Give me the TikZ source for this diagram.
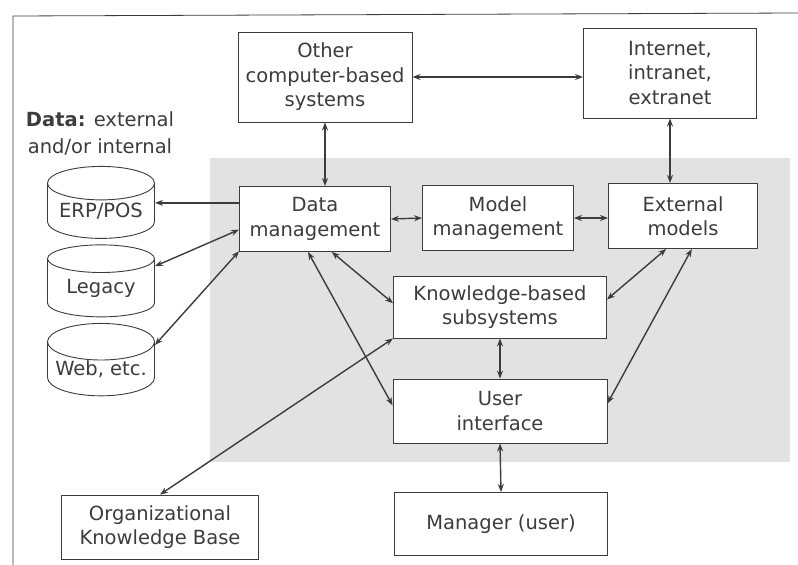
\documentclass[tikz,border=0pt]{standalone}
\usepackage{fontspec}
\setmainfont{DejaVu Sans}
\usetikzlibrary{arrows.meta,shapes.geometric}

\definecolor{ink}{HTML}{3C3C3C}
\definecolor{bgshade}{HTML}{E2E2E2}

\begin{document}
\begin{tikzpicture}[x = 1pt, y = -1pt,
  box/.style   = {draw = ink, line width = 0.9pt, fill = white, text = ink,
                  align = center, inner sep = 0pt,
                  font = \fontsize{19.5}{24.5}\selectfont},
  store/.style = {cylinder, shape border rotate = 90, aspect = 0.4,
                  draw = ink, line width = 0.9pt, fill = white, text = ink,
                  inner sep = 0pt, minimum width = 107pt, minimum height = 72pt,
                  font = \fontsize{19.5}{24.5}\selectfont},
  link/.style  = {draw = ink, line width = 1.4pt,
                  {Stealth[length = 8pt, width = 6pt]}-{Stealth[length = 8pt, width = 6pt]}}]

\useasboundingbox (0, 0) rectangle (798, 565);

\fill[bgshade] (210, 158) rectangle (790, 462);
\draw[ink, line width = 0.8pt] (13, 565) -- (13, 16) -- (798, 13);

\node[box, minimum width = 174pt, minimum height = 90pt] (other) at (325,  77) {Other\\computer-based\\systems};
\node[box, minimum width = 173pt, minimum height = 90pt] (inet)  at (670,  73) {Internet,\\intranet,\\extranet};

\node[text = ink, align = center, font = \fontsize{19.5}{27}\selectfont] (datalbl) at (100, 133) {\textbf{Data:} external\\and/or internal};

\node[box, minimum width = 151pt, minimum height = 65pt] (data)  at (315, 219) {Data\\management};
\node[box, minimum width = 151pt, minimum height = 65pt] (model) at (498, 218) {Model\\management};
\node[box, minimum width = 149pt, minimum height = 65pt] (ext)   at (683, 216) {External\\models};

\node[box, minimum width = 213pt, minimum height = 62pt] (kbs) at (500, 307) {Knowledge-based\\subsystems};
\node[box, minimum width = 214pt, minimum height = 64pt] (ui)  at (500, 411) {User\\interface};
\node[box, minimum width = 213pt, minimum height = 63pt] (mgr) at (501, 524) {Manager (user)};
\node[box, minimum width = 197pt, minimum height = 64pt] (okb) at (160, 527) {Organizational\\Knowledge Base};

\node[store] (erp)    at (101, 211) {ERP/POS};
\node[store] (legacy) at (101, 288) {Legacy};
\node[store] (web)    at (101, 369) {Web, etc.};


\draw[link] (other.east) -- (other.east -| inet.west);
\draw[link] (other.south) -- (other.south |- data.north);
\draw[link] (inet.south) -- (inet.south |- ext.north);

\draw[link] (data.east) -- (model.west);
\draw[link] (model.east) -- (model.east -| ext.west);

\draw[link, -{Stealth[length = 8pt, width = 6pt]}] (data.168) -- (data.168 -| erp.east);
\draw[link] (legacy.22) -- (data.188);
\draw[link] (web.24) -- (data.203);

\draw[link] (data.-63) -- (kbs.178);
\draw[link] (data.-102) -- (ui.177);
\draw[link] (okb.north) -- (kbs.south west);

\draw[link] (kbs.4) -- (ext.-117);
\draw[link] (ui.4) -- (ext.-75);

\draw[link] (kbs.south) -- (ui.north);
\draw[link] (ui.south) -- (mgr.north);

\end{tikzpicture}
\end{document}
